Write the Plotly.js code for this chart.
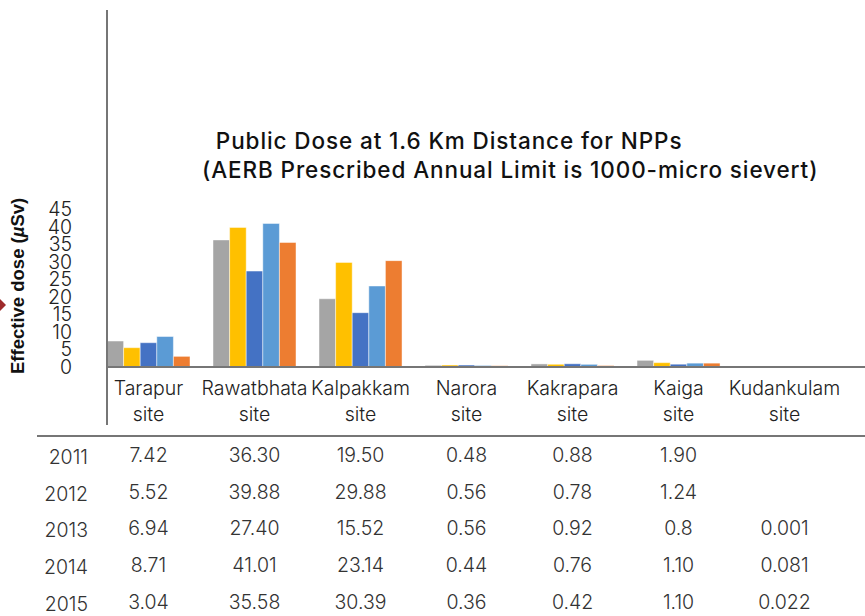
<!DOCTYPE html>
<html><head><meta charset="utf-8">
<script src="https://cdn.plot.ly/plotly-3.0.1.min.js"></script>
<style>html,body{margin:0;padding:0;background:#fff}#chart{width:865px;height:616px}
.gtitle{letter-spacing:0.9px}</style>
</head><body><div id="chart"></div>
<script>
// ---- data ----
const sites = ['Tarapur site','Rawatbhata site','Kalpakkam site','Narora site','Kakrapara site','Kaiga site','Kudankulam site'];
const siteLabels = ['Tarapur<br>site','Rawatbhata<br>site','Kalpakkam<br>site','Narora<br>site','Kakrapara<br>site','Kaiga<br>site','Kudankulam<br>site'];
const years = ['2011','2012','2013','2014','2015'];
const dose2011 = ['7.42','36.30','19.50','0.48','0.88','1.90',''];
const dose2012 = ['5.52','39.88','29.88','0.56','0.78','1.24',''];
const dose2013 = ['6.94','27.40','15.52','0.56','0.92','0.8','0.001'];
const dose2014 = ['8.71','41.01','23.14','0.44','0.76','1.10','0.081'];
const dose2015 = ['3.04','35.58','30.39','0.36','0.42','1.10','0.022'];
const yTicks = [0,5,10,15,20,25,30,35,40,45];

// ---- styles ----
const doseRows = [dose2011, dose2012, dose2013, dose2014, dose2015];
const colors = ['#A5A5A5','#FFC000','#4472C4','#5B9BD5','#ED7D31'];
const W = 865, H = 616;
const px = v => v / W;
const py = v => 1 - v / H;
const lightFont = 'Inter, "Open Sans", "Liberation Sans", Arial, sans-serif';

const traces = [];
doseRows.forEach((row, i) => {
  traces.push({
    type: 'bar', name: years[i], x: sites,
    y: row.map(s => s === '' ? null : Number(s)),
    xaxis: 'x', yaxis: 'y',
    marker: {color: colors[i], line: {color: 'rgba(255,255,255,0.45)', width: 1}},
    hoverinfo: 'x+y+name'
  });
});
doseRows.forEach((row, i) => {
  traces.push({
    type: 'scatter', mode: 'text', x: sites, y: sites.map(() => years[i]),
    text: row, xaxis: 'x', yaxis: 'y2', showlegend: false, hoverinfo: 'skip',
    cliponaxis: false,
    textfont: {family: lightFont, size: 19.5, color: '#333', weight: 300}
  });
});

const axisColor = '#767676';
const layout = {
  width: W, height: H, autosize: false,
  margin: {l: 0, r: 0, t: 0, b: 0},
  paper_bgcolor: '#fff', plot_bgcolor: 'rgba(0,0,0,0)',
  showlegend: false,
  barmode: 'group', bargap: 0.217, bargroupgap: 0,
  title: {
    text: '\u200B\u00A0\u00A0Public Dose at 1.6 Km Distance for NPPs<br>(AERB Prescribed Annual Limit is 1000-micro sievert)',
    font: {family: 'Inter, "Liberation Sans", Arial, sans-serif', size: 22.5, color: '#111', weight: 500},
    x: px(202), xanchor: 'left', xref: 'paper',
    y: py(149), yanchor: 'middle', yref: 'paper'
  },
  xaxis: {
    type: 'category', domain: [px(107), 1], range: [-0.3915, 6.759],
    anchor: 'free', position: py(367),
    showline: true, linecolor: axisColor, linewidth: 2,
    ticks: '', showgrid: false, zeroline: false, tickangle: 0,
    tickvals: sites, ticktext: siteLabels,
    tickfont: {family: lightFont, size: 19.5, color: '#222', weight: 300},
    ticklabelstandoff: 4, fixedrange: true
  },
  yaxis: {
    domain: [py(425), py(10)], range: [-16.57, 102],
    anchor: 'free', position: px(107),
    showline: true, linecolor: axisColor, linewidth: 2,
    ticks: '', showgrid: false, zeroline: false,
    tickvals: yTicks,
    tickfont: {family: lightFont, size: 19.5, color: '#222', weight: 300},
    ticklabelstandoff: 30, fixedrange: true
  },
  yaxis2: {
    type: 'category', categoryorder: 'array', categoryarray: years,
    domain: [0, py(437)], range: [4.327, -0.544],
    anchor: 'free', position: px(107),
    showline: false, showgrid: false, zeroline: false, ticks: '',
    tickfont: {family: lightFont, size: 19.5, color: '#333', weight: 300},
    ticklabelstandoff: 19, fixedrange: true
  },
  annotations: [{
    text: '<b>Effective dose (<i>µ</i>Sv)</b>', textangle: -90,
    xref: 'paper', yref: 'paper', x: px(17), y: py(286),
    xanchor: 'center', yanchor: 'middle', showarrow: false,
    font: {family: '"Liberation Sans", Arial, sans-serif', size: 18.5, color: '#111'}
  }],
  shapes: [
    {type: 'line', xref: 'paper', yref: 'paper', x0: px(37), x1: 1, y0: py(436), y1: py(436),
     line: {color: axisColor, width: 2}},
    {type: 'path', xref: 'paper', yref: 'paper',
     path: `M 0 ${py(299)} L ${px(6)} ${py(305)} L 0 ${py(311)} Z`,
     fillcolor: '#9E2A2B', line: {width: 0}}
  ]
};

Plotly.newPlot('chart', traces, layout, {displayModeBar: false, staticPlot: true});
</script>
</body></html>
